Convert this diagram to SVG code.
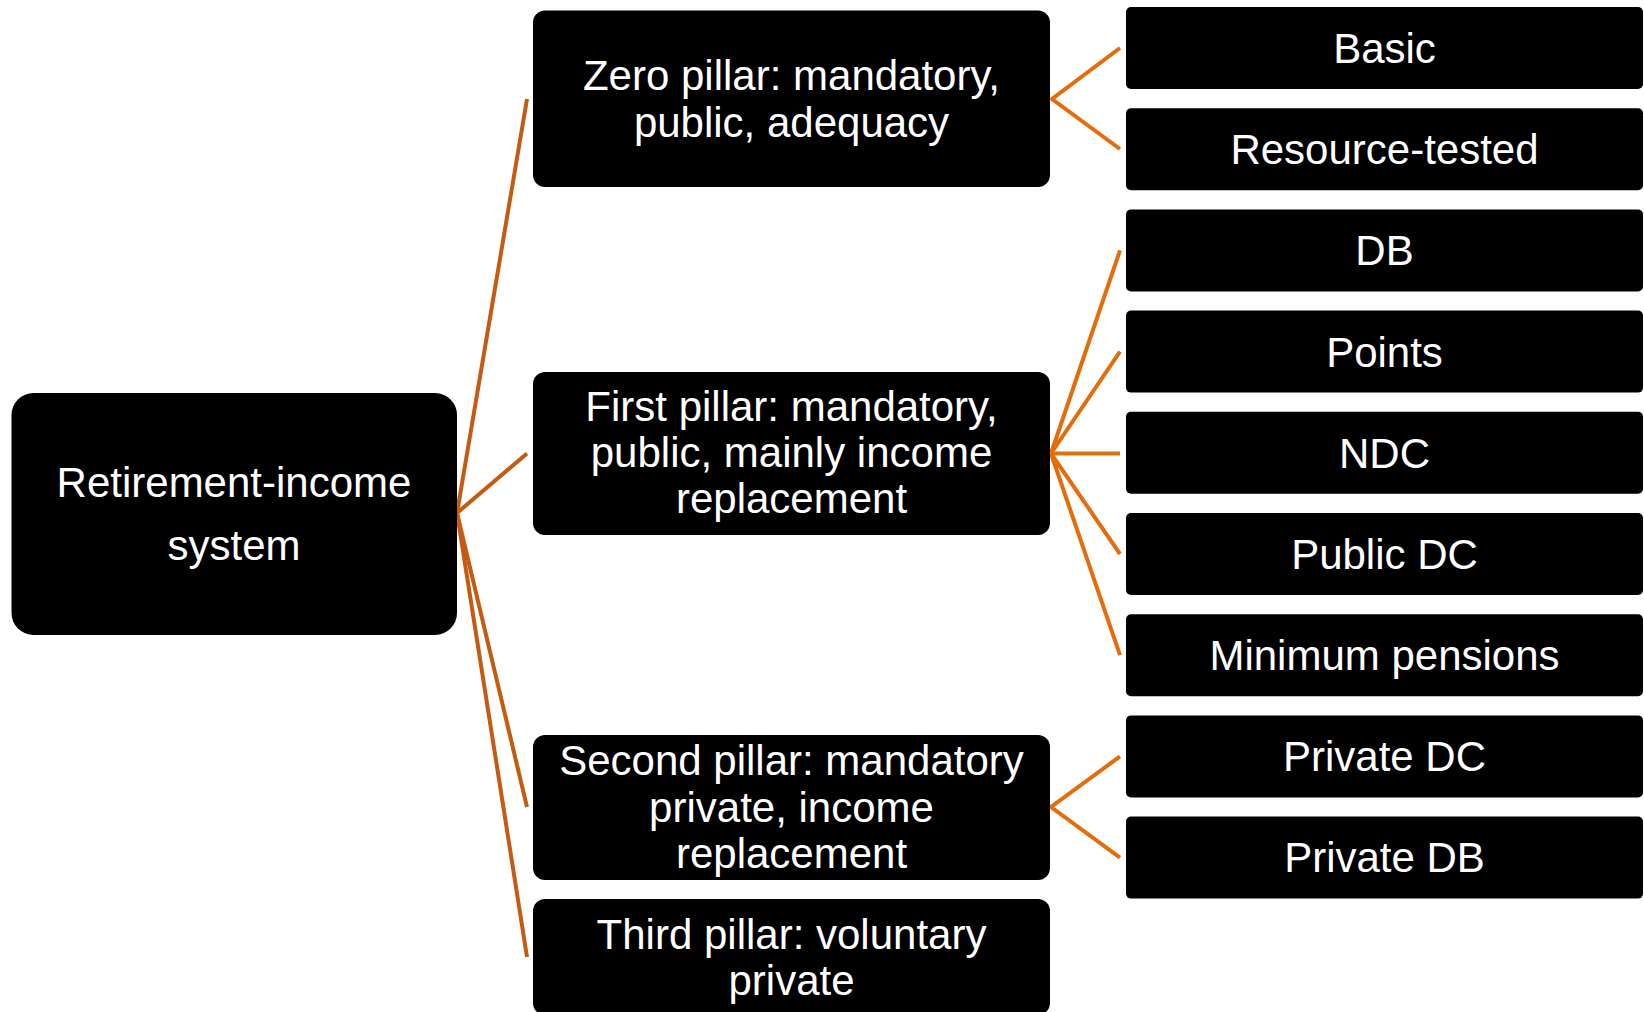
<svg xmlns="http://www.w3.org/2000/svg" width="1644" height="1012" viewBox="0 0 1644 1012">
<style>
.box{fill:#000000}
.t{font-family:"Liberation Sans",Arial,sans-serif;font-size:42px;fill:#ffffff;text-anchor:middle}
.c1{stroke:#C55A11;stroke-width:4;fill:none;stroke-linecap:butt;stroke-linejoin:miter}
.c2{stroke:#E46C0A;stroke-width:4;fill:none;stroke-linecap:butt;stroke-linejoin:miter}
</style>
<rect width="1644" height="1012" fill="#ffffff"/>
<g id="connectors">
<polyline class="c1" points="527,99 457,513 527,453.5"/>
<polyline class="c1" points="457,513 527,807"/>
<polyline class="c1" points="457,513 527,957"/>
<polyline class="c2" points="1120,48 1052,99 1120,149"/>
<polyline class="c2" points="1120,250.4 1051,453.5 1120,351.6"/>
<polyline class="c2" points="1051,453.5 1120,453.5"/>
<polyline class="c2" points="1120,554 1051,453.5 1120,655.2"/>
<polyline class="c2" points="1120,756.4 1051,807 1120,857.6"/>
</g>
<g id="root">
<rect class="box" x="11.5" y="393" width="445.5" height="242" rx="22"/>
<text class="t" x="234" y="497" font-size="43">Retirement-income</text>
<text class="t" x="234" y="560" font-size="43">system</text>
</g>
<g id="zero-pillar">
<rect class="box" x="533" y="10.5" width="517" height="176.5" rx="12"/>
<text class="t" x="791.5" y="89.5">Zero pillar: mandatory,</text>
<text class="t" x="791.5" y="136.5">public, adequacy</text>
</g>
<g id="first-pillar">
<rect class="box" x="533" y="372" width="517" height="163" rx="12"/>
<text class="t" x="791.5" y="421">First pillar: mandatory,</text>
<text class="t" x="791.5" y="467">public, mainly income</text>
<text class="t" x="791.5" y="513">replacement</text>
</g>
<g id="second-pillar">
<rect class="box" x="533" y="735" width="517" height="145" rx="12"/>
<text class="t" x="791.5" y="775">Second pillar: mandatory</text>
<text class="t" x="791.5" y="821.5">private, income</text>
<text class="t" x="791.5" y="868">replacement</text>
</g>
<g id="third-pillar">
<rect class="box" x="533" y="899" width="517" height="116" rx="12"/>
<text class="t" x="791.5" y="949">Third pillar: voluntary</text>
<text class="t" x="791.5" y="995">private</text>
</g>
<g id="basic">
<rect class="box" x="1126" y="7" width="517" height="82" rx="5"/>
<text class="t" x="1384.5" y="63">Basic</text>
</g>
<g id="resource-tested">
<rect class="box" x="1126" y="108.2" width="517" height="82" rx="5"/>
<text class="t" x="1384.5" y="164">Resource-tested</text>
</g>
<g id="db">
<rect class="box" x="1126" y="209.4" width="517" height="82" rx="5"/>
<text class="t" x="1384.5" y="265.4">DB</text>
</g>
<g id="points">
<rect class="box" x="1126" y="310.6" width="517" height="82" rx="5"/>
<text class="t" x="1384.5" y="366.6">Points</text>
</g>
<g id="ndc">
<rect class="box" x="1126" y="411.8" width="517" height="82" rx="5"/>
<text class="t" x="1384.5" y="467.5">NDC</text>
</g>
<g id="public-dc">
<rect class="box" x="1126" y="513" width="517" height="82" rx="5"/>
<text class="t" x="1384.5" y="568.5">Public DC</text>
</g>
<g id="minimum-pensions">
<rect class="box" x="1126" y="614.2" width="517" height="82" rx="5"/>
<text class="t" x="1384.5" y="669.5">Minimum pensions</text>
</g>
<g id="private-dc">
<rect class="box" x="1126" y="715.4" width="517" height="82" rx="5"/>
<text class="t" x="1384.5" y="771">Private DC</text>
</g>
<g id="private-db">
<rect class="box" x="1126" y="816.6" width="517" height="82" rx="5"/>
<text class="t" x="1384.5" y="872">Private DB</text>
</g>
</svg>
